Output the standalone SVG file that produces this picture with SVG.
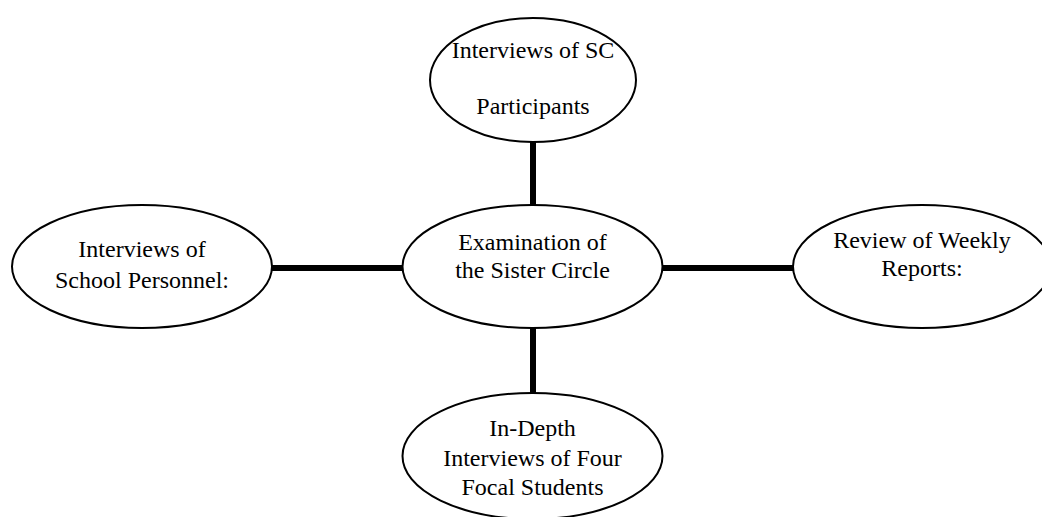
<svg xmlns="http://www.w3.org/2000/svg" width="1042" height="517" viewBox="0 0 1042 517">
<style>
.node ellipse{fill:#fff;stroke:#000;stroke-width:2}
.node text{font-family:"Liberation Serif","Times New Roman",serif;font-size:24px;fill:#000;text-anchor:middle}
.conn line{stroke:#000;stroke-width:6}
</style>
<rect width="1042" height="517" fill="#fff"/>
<g id="connectors" class="conn">
<line x1="533" y1="141" x2="533" y2="206"/>
<line x1="533" y1="327" x2="533" y2="394"/>
<line x1="271" y1="268" x2="403" y2="268"/>
<line x1="662" y1="268" x2="794" y2="268"/>
</g>
<g id="top" class="node">
<ellipse cx="533" cy="80" rx="103" ry="62"/>
<text x="533" y="58">Interviews of SC</text>
<text x="533" y="114">Participants</text>
</g>
<g id="center" class="node">
<ellipse cx="532.5" cy="266.5" rx="130" ry="61.5"/>
<text x="532.5" y="250">Examination of</text>
<text x="532.5" y="278">the Sister Circle</text>
</g>
<g id="left" class="node">
<ellipse cx="142" cy="266.5" rx="130" ry="61.5"/>
<text x="142" y="257">Interviews of</text>
<text x="142" y="288">School Personnel:</text>
</g>
<g id="right" class="node">
<ellipse cx="922" cy="266.5" rx="129" ry="61.5"/>
<text x="922" y="248">Review of Weekly</text>
<text x="922" y="276">Reports:</text>
</g>
<g id="bottom" class="node">
<ellipse cx="532.5" cy="456" rx="130" ry="63"/>
<text x="532.5" y="436">In-Depth</text>
<text x="532.5" y="466">Interviews of Four</text>
<text x="532.5" y="495">Focal Students</text>
</g>
</svg>
